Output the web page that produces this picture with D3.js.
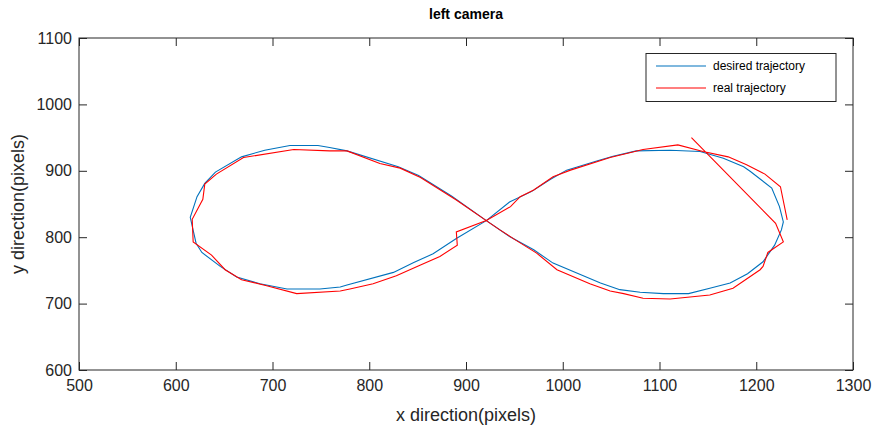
<!DOCTYPE html>
<html><head><meta charset="utf-8">
<script src="https://cdn.jsdelivr.net/npm/d3@7"></script>
<style>body{margin:0;background:#fff}svg{display:block;font-family:"Liberation Sans",Arial,sans-serif}</style>
</head><body><svg id="c" width="877" height="432"></svg>
<script>
const xTicks = [500,600,700,800,900,1000,1100,1200,1300];
const yTicks = [600,700,800,900,1000,1100];
const seriesNames = ["desired trajectory","real trajectory"];
const desired = [[921,825],[945,853],[968,869],[987,887],[1004,901],[1036,915],[1052,922],[1076,930],[1111,931],[1142,929],[1166,919],[1187,906],[1194,899],[1216,874],[1224,846],[1228,823],[1226,811],[1219,788],[1207,763],[1191,745],[1173,731],[1152,723],[1130,715],[1104,715],[1080,717],[1059,721],[1039,731],[990,761],[970,781],[945,801],[921,825],[885,862],[851,893],[830,906],[777,930],[759,935],[747,938],[718,938],[692,931],[668,921],[641,898],[630,881],[622,861],[615,830],[621,791],[627,777],[646,756],[663,740],[687,730],[715,722],[749,722],[770,725],[777,728],[825,747],[846,762],[866,775],[890,798],[921,825]];
const real = [[1133,950],[1220,821],[1228,793],[1212,777],[1207,756],[1204,751],[1176,723],[1152,713],[1111,707],[1083,708],[1063,715],[1049,719],[1028,730],[994,751],[973,776],[951,796],[935,811],[921,825],[890,856],[853,890],[832,904],[811,911],[777,930],[759,930],[722,932],[670,920],[642,895],[630,880],[628,857],[617,827],[618,793],[637,773],[651,751],[668,736],[694,727],[725,715],[770,719],[780,722],[804,730],[828,742],[853,758],[873,771],[891,788],[890,808],[921,825],[946,846],[956,861],[970,871],[990,891],[1008,901],[1049,920],[1083,932],[1119,939],[1145,929],[1171,921],[1190,909],[1209,895],[1225,876],[1232,826]];
const colors = ["#0072BD","#FF0000"];

const svg = d3.select("#c");
const L=79,R=853,T=38,B=370;
const x = d3.scaleLinear().domain([500,1300]).range([L,R]);
const y = d3.scaleLinear().domain([600,1100]).range([B,T]);
const axCol="#262626", tk=8;
const fmt = d3.format("d");

const line = d3.line().x(d=>x(d[0])).y(d=>y(d[1]));
svg.append("path").datum(desired).attr("d",line).attr("fill","none").attr("stroke",colors[0]).attr("stroke-width",1.1);
svg.append("path").datum(real).attr("d",line).attr("fill","none").attr("stroke",colors[1]).attr("stroke-width",1.1);

const gx = svg.append("g").attr("transform",`translate(0,${B})`).call(d3.axisBottom(x).tickValues(xTicks).tickSize(-tk).tickPadding(12).tickFormat(fmt));
const gxt = svg.append("g").attr("transform",`translate(0,${T})`).call(d3.axisTop(x).tickValues(xTicks).tickSize(-tk).tickFormat(""));
const gy = svg.append("g").attr("transform",`translate(${L},0)`).call(d3.axisLeft(y).tickValues(yTicks).tickSize(-tk).tickPadding(6).tickFormat(fmt));
const gyr = svg.append("g").attr("transform",`translate(${R},0)`).call(d3.axisRight(y).tickValues(yTicks).tickSize(-tk).tickFormat(""));
[gx,gxt,gy,gyr].forEach(g=>{
  g.selectAll(".tick line").attr("stroke",axCol);
  g.selectAll("text").attr("fill","#262626").attr("font-size",16).attr("font-family","Liberation Sans, Arial, sans-serif");
});
gx.selectAll(".tick text").attr("dy","0.71em").attr("y",10);
gy.selectAll(".tick text").attr("x",-7);
svg.selectAll(".domain").remove();
svg.append("rect").attr("x",L).attr("y",T).attr("width",R-L).attr("height",B-T).attr("fill","none").attr("stroke",axCol).attr("stroke-width",1);

svg.append("text").attr("x",(L+R)/2).attr("y",19).attr("text-anchor","middle").attr("font-weight","bold").attr("font-size",14).attr("fill","#000").text("left camera");
svg.append("text").attr("x",(L+R)/2).attr("y",421).attr("text-anchor","middle").attr("font-size",18).attr("fill","#262626").text("x direction(pixels)");
svg.append("text").attr("transform",`translate(24,${(T+B)/2}) rotate(-90)`).attr("text-anchor","middle").attr("font-size",18).attr("fill","#262626").text("y direction(pixels)");

const lg = svg.append("g");
lg.append("rect").attr("x",646).attr("y",53.5).attr("width",190).attr("height",48).attr("fill","#fff").attr("stroke",axCol).attr("stroke-width",1);
seriesNames.forEach((n,i)=>{
  const yy = 66 + i*22;
  lg.append("line").attr("x1",656).attr("x2",706).attr("y1",yy).attr("y2",yy).attr("stroke",colors[i]).attr("stroke-width",1.1);
  lg.append("text").attr("x",713).attr("y",yy+4).attr("font-size",12).attr("fill","#000").text(n);
});
</script></body></html>
